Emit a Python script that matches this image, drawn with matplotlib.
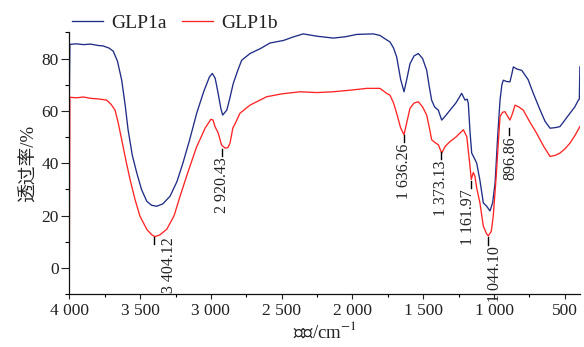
import matplotlib
matplotlib.use("Agg")
import matplotlib.pyplot as plt
from matplotlib.ticker import MultipleLocator, FuncFormatter

# ---------------- data ----------------
wn_a = [4000, 3996, 3950, 3900, 3850, 3800, 3762, 3720, 3690, 3660, 3630, 3605, 3585,
        3555, 3524, 3490, 3453, 3420, 3383, 3340, 3289, 3240, 3197, 3150, 3100, 3050,
        3010, 2990, 2970, 2950, 2930, 2917, 2900, 2888, 2870, 2842, 2810, 2783, 2724,
        2650, 2583, 2487, 2420, 2348, 2250, 2136, 2050, 1970, 1853, 1806, 1770, 1735,
        1710, 1688, 1660, 1636, 1615, 1594, 1565, 1535, 1505, 1476, 1460, 1441, 1420,
        1394, 1370, 1345, 1311, 1270, 1229, 1205, 1190, 1182, 1170, 1158, 1140, 1123,
        1100, 1076, 1052, 1029, 1010, 993, 975, 958, 945, 935, 910, 888, 875, 864, 840,
        805, 760, 723, 680, 640, 605, 570, 535, 500, 464, 430, 405, 398, 394]
glp1a = [64.0, 85.4, 85.6, 85.3, 85.5, 85.0, 84.8, 84.0, 82.8, 79.0, 71.7, 62.0, 52.8,
         43.0, 36.4, 30.0, 25.5, 24.0, 23.6, 24.5, 27.4, 33.0, 40.2, 49.0, 59.2, 67.5,
         73.0, 74.3, 72.5, 67.0, 61.0, 58.4, 59.5, 60.3, 64.0, 70.5, 75.5, 79.3, 81.9,
         83.8, 85.9, 86.9, 88.2, 89.4, 88.5, 87.8, 88.3, 89.2, 89.4, 88.8, 87.5, 86.3,
         84.0, 80.6, 72.0, 67.3, 72.5, 78.0, 81.0, 81.9, 80.0, 75.5, 70.0, 64.1, 61.5,
         60.3, 56.5, 58.0, 60.3, 63.0, 66.7, 64.1, 64.5, 62.9, 52.0, 43.9, 42.0, 40.1,
         33.5, 24.9, 23.6, 21.8, 25.0, 32.5, 50.0, 64.1, 70.0, 71.7, 71.2, 71.1, 74.0,
         76.8, 76.0, 75.5, 72.0, 66.7, 61.0, 56.0, 53.4, 53.6, 54.0, 56.5, 59.1, 61.5,
         64.1, 64.5, 76.8]

wn_b = [4000, 3996, 3950, 3900, 3850, 3800, 3760, 3736, 3705, 3677, 3655, 3630, 3600,
        3571, 3535, 3501, 3453, 3420, 3395, 3360, 3312, 3260, 3218, 3160, 3100, 3040,
        3000, 2985, 2971, 2948, 2925, 2900, 2880, 2865, 2845, 2830, 2795, 2724, 2606,
        2500, 2371, 2250, 2136, 2000, 1900, 1806, 1759, 1735, 1710, 1688, 1660, 1636,
        1615, 1594, 1565, 1535, 1505, 1476, 1455, 1441, 1420, 1394, 1370, 1345, 1311,
        1270, 1217, 1193, 1170, 1161, 1147, 1135, 1123, 1100, 1076, 1052, 1041, 1020,
        1006, 985, 970, 958, 940, 923, 905, 888, 870, 852, 825, 794, 750, 700, 650,
        605, 570, 535, 500, 464, 430, 394]
glp1b = [0.0, 65.2, 65.0, 65.3, 64.8, 64.6, 64.3, 64.1, 62.5, 60.3, 55.5, 49.0, 41.0,
         33.8, 26.0, 19.8, 14.8, 12.8, 12.0, 12.7, 14.8, 20.0, 27.4, 37.0, 46.4, 53.5,
         56.8, 56.5, 54.0, 51.5, 47.0, 45.8, 46.0, 47.7, 53.5, 55.0, 59.1, 62.2, 65.4,
         66.5, 67.3, 67.0, 67.3, 68.0, 68.6, 68.6, 66.7, 66.0, 63.0, 59.1, 53.5, 50.9,
         56.0, 61.0, 63.0, 63.5, 61.5, 58.4, 53.0, 49.0, 48.0, 47.1, 43.9, 46.5, 48.3,
         50.0, 52.8, 50.2, 38.8, 33.8, 36.5, 35.0, 30.6, 24.9, 16.0, 13.0, 12.3, 14.0,
         19.8, 35.0, 48.0, 57.8, 59.5, 59.7, 58.0, 56.5, 59.0, 62.2, 61.5, 60.3, 56.0,
         51.5, 46.5, 42.6, 43.0, 43.9, 45.5, 47.7, 50.5, 54.0]

peak_wn = [3404.12, 2920.43, 1636.26, 1373.13, 1161.97, 1044.10, 896.86]
peak_val = [12.0, 45.5, 50.9, 44.3, 33.3, 11.8, 53.5]
peak_labels = ['3 404.12', '2 920.43', '1 636.26', '1 373.13', '1 161.97',
               '1 044.10', '896.86']

series_names = ['GLP1a', 'GLP1b']

# ---------------- style ----------------
plt.rcParams['font.family'] = ['Liberation Serif', 'Noto Sans CJK SC']
plt.rcParams['mathtext.fontset'] = 'stix'
txt_color = '#222222'
blue = '#1f2d86'
red = '#ff2424'

fig = plt.figure(figsize=(5.84, 3.47), dpi=100)
ax = fig.add_axes([0.1187, 0.1519, 0.8745, 0.755])

la, = ax.plot(wn_a, glp1a, color=blue, lw=0.95)
lb, = ax.plot(wn_b, glp1b, color=red, lw=0.95)

ax.set_xlim(4000, 393)
ax.set_ylim(-10, 90)

for s in ['top', 'right']:
    ax.spines[s].set_visible(False)
for s in ['left', 'bottom']:
    ax.spines[s].set_linewidth(0.9)
    ax.spines[s].set_color('#111111')

ax.xaxis.set_major_locator(MultipleLocator(500))
ax.xaxis.set_minor_locator(MultipleLocator(250))
ax.yaxis.set_major_locator(MultipleLocator(20))
ax.yaxis.set_minor_locator(MultipleLocator(10))
ax.xaxis.set_major_formatter(FuncFormatter(lambda v, p: f"{int(round(v)):,}".replace(',', ' ')))

ax.tick_params(axis='x', which='major', direction='out', length=3.5, width=0.8,
               labelsize=12.5, colors=txt_color, pad=3)
ax.tick_params(axis='x', which='minor', direction='out', length=2.2, width=0.8)
ax.tick_params(axis='y', which='major', direction='out', length=5.5, width=0.8,
               labelsize=12.5, colors=txt_color, pad=2)
ax.tick_params(axis='y', which='minor', direction='out', length=2.8, width=0.8)

ax.set_xlabel('波数/cm$^{-1}$', fontsize=13.5, color=txt_color, labelpad=1)
ax.set_ylabel('透过率/%', fontsize=13.5, color=txt_color, labelpad=3)

# annotations: short marker under each band + rotated label
label_dx = [11, 0, 0, 0, -2, 5, 1.5]   # points
label_dy = [6, 0, 0, 0, 0, 0, 0]
for w, v, t, dx, dy in zip(peak_wn, peak_val, peak_labels, label_dx, label_dy):
    ax.plot([w, w], [v, v - 2.8], color='black', lw=1.0)
    ax.annotate(t, xy=(w, v - 3.3), xytext=(dx, dy), textcoords='offset points',
                rotation=90, ha='center', va='top', fontsize=11.5, color=txt_color)

fig.legend([la, lb], series_names, loc='center', bbox_to_anchor=(0.30, 0.934),
           ncol=2, frameon=False, fontsize=14, handlelength=1.55, handletextpad=0.45,
           columnspacing=0.8, labelcolor=txt_color)

fig.savefig('out.png', dpi=100)
